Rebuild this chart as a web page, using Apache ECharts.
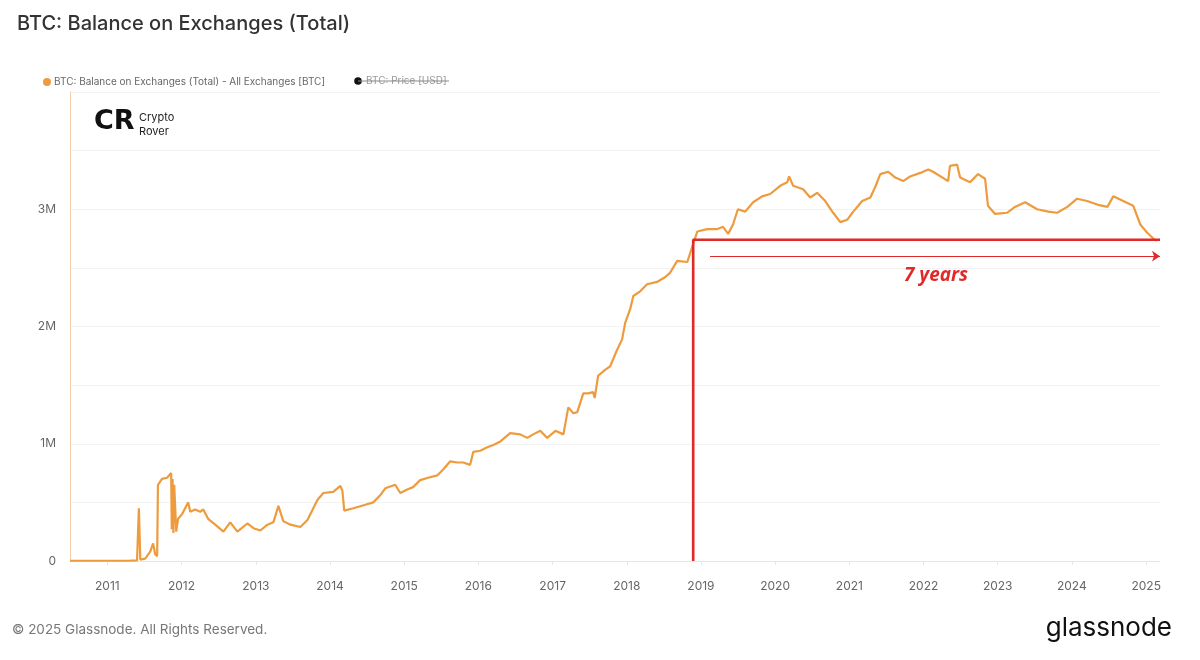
<!DOCTYPE html>
<html>
<head>
<meta charset="utf-8">
<script src="https://cdn.jsdelivr.net/npm/echarts@6/dist/echarts.min.js"></script>
<style>
html,body{margin:0;padding:0;background:#fff;}
#c{width:1200px;height:660px;}
</style>
</head>
<body>
<div id="c"></div>
<script>
// Balance on exchanges, millions of BTC
const dates = [
'2010-07-01','2010-11-25','2011-04-22','2011-05-27','2011-06-05','2011-06-12','2011-07-06','2011-07-31','2011-08-14','2011-08-24',
'2011-09-03','2011-09-07','2011-09-27','2011-10-22','2011-11-11','2011-11-14','2011-11-18','2011-11-22','2011-11-26','2011-12-06',
'2011-12-15','2012-01-04','2012-02-03','2012-02-13','2012-03-08','2012-04-02','2012-04-17','2012-05-11','2012-06-15','2012-07-25',
'2012-08-28','2012-10-02','2012-11-20','2012-12-20','2013-01-23','2013-02-27','2013-03-28','2013-04-22','2013-05-16','2013-06-20',
'2013-08-08','2013-09-12','2013-10-31','2013-11-29','2014-01-17','2014-02-21','2014-03-03','2014-03-12','2014-04-26','2014-06-24',
'2014-08-02','2014-09-05','2014-09-30','2014-11-18','2014-12-13','2015-01-16','2015-02-14','2015-03-21','2015-04-29','2015-06-13',
'2015-07-12','2015-08-16','2015-09-19','2015-10-19','2015-11-22','2015-12-07','2016-01-11','2016-02-14','2016-03-15','2016-04-19',
'2016-06-06','2016-07-25','2016-08-29','2016-09-27','2016-11-01','2016-12-05','2017-01-15','2017-02-23','2017-03-19','2017-04-13',
'2017-05-02','2017-06-01','2017-06-25','2017-07-19','2017-07-27','2017-08-13','2017-09-16','2017-10-11','2017-11-14','2017-12-09',
'2017-12-24','2018-01-18','2018-02-02','2018-03-08','2018-04-11','2018-05-30','2018-07-08','2018-08-03','2018-09-06','2018-10-26',
'2018-11-19','2018-12-14','2019-02-01','2019-03-21','2019-04-20','2019-05-15','2019-06-08','2019-07-02','2019-08-07','2019-09-15',
'2019-10-29','2019-12-08','2020-01-26','2020-03-01','2020-03-10','2020-03-30','2020-05-18','2020-06-22','2020-07-26','2020-09-04',
'2020-10-13','2020-11-17','2020-12-21','2021-01-20','2021-03-05','2021-04-14','2021-05-08','2021-06-02','2021-07-11','2021-08-15',
'2021-09-23','2021-10-27','2021-12-16','2022-01-24','2022-02-17','2022-05-02','2022-05-11','2022-06-15','2022-06-30','2022-08-18',
'2022-09-26','2022-10-31','2022-11-14','2022-12-19','2023-02-16','2023-03-27','2023-05-16','2023-07-14','2023-09-07','2023-10-21',
'2023-12-10','2024-01-27','2024-03-16','2024-05-05','2024-06-24','2024-07-23','2024-09-10','2024-10-29','2024-12-03','2025-01-06',
'2025-02-05','2025-02-20'
];
const balance = [
0.002,0.002,0.003,0.005,0.45,0.012,0.02,0.08,0.15,0.06,
0.04,0.65,0.70,0.71,0.75,0.27,0.70,0.24,0.65,0.25,
0.36,0.40,0.50,0.42,0.44,0.42,0.44,0.36,0.31,0.25,
0.33,0.25,0.32,0.28,0.26,0.31,0.33,0.47,0.34,0.31,
0.29,0.35,0.52,0.58,0.59,0.64,0.60,0.43,0.45,0.48,
0.50,0.56,0.62,0.65,0.58,0.61,0.63,0.69,0.71,0.73,
0.78,0.85,0.84,0.84,0.82,0.93,0.94,0.97,0.99,1.02,
1.09,1.08,1.05,1.08,1.11,1.05,1.11,1.08,1.31,1.26,
1.27,1.43,1.43,1.44,1.39,1.58,1.63,1.66,1.80,1.89,
2.03,2.15,2.26,2.30,2.36,2.38,2.42,2.46,2.56,2.55,
2.68,2.81,2.83,2.83,2.85,2.79,2.87,3.00,2.98,3.06,
3.11,3.13,3.20,3.23,3.28,3.20,3.17,3.10,3.14,3.07,
2.97,2.89,2.91,2.98,3.07,3.10,3.19,3.30,3.32,3.27,
3.24,3.28,3.31,3.34,3.32,3.24,3.37,3.38,3.27,3.23,
3.30,3.26,3.03,2.96,2.97,3.02,3.06,3.00,2.98,2.97,
3.02,3.09,3.07,3.04,3.02,3.11,3.07,3.03,2.87,2.80,
2.75,2.73
];
const yTicks = [0, 1, 2, 3];
const axisMin = '2010-07-01';
const axisMax = '2025-03-10';
// annotation values
const markDate = '2018-11-24';
const markLevel = 2.74;
const arrowStart = '2019-02-15';
const arrowLevel = 2.60;
const labelDate = '2022-03-03';
const labelLevel = 2.43;
const labelText = '7 years';

const chart = echarts.init(document.getElementById('c'), null, {renderer: 'canvas'});
const FONT = 'Inter, "Noto Sans", sans-serif';
chart.setOption({
  backgroundColor: '#fff',
  animation: false,
  textStyle: {fontFamily: FONT},
  title: {
    text: 'BTC: Balance on Exchanges (Total)',
    left: 12, top: 9,
    textStyle: {fontSize: 20, fontWeight: 500, color: '#333', fontFamily: FONT}
  },
  legend: {
    data: ['BTC: Balance on Exchanges (Total) - All Exchanges [BTC]'],
    left: 38, top: 72,
    icon: 'circle', itemWidth: 8, itemHeight: 8, itemGap: 4,
    textStyle: {fontSize: 10, color: '#666', fontFamily: FONT, padding: [0,0,0,-2]}
  },
  grid: {left: 70, right: 40, top: 92, bottom: 99},
  xAxis: {
    type: 'time', min: axisMin, max: axisMax, splitNumber: 16,
    axisLine: {lineStyle: {color: '#e6e6e6'}},
    axisTick: {show: true, lineStyle: {color: '#e6e6e6'}, length: 4},
    splitLine: {show: false},
    axisLabel: {formatter: '{yyyy}', color: '#666', fontSize: 12, margin: 19, fontFamily: FONT}
  },
  yAxis: {
    type: 'value', min: 0, max: 4, interval: 0.5,
    axisLine: {show: true, lineStyle: {color: '#f2cfa6'}},
    axisTick: {show: false},
    splitLine: {lineStyle: {color: '#f3f3f3'}},
    axisLabel: {
      color: '#666', fontSize: 12, margin: 14, fontFamily: FONT,
      formatter: v => yTicks.includes(v) ? (v === 0 ? '0' : v + 'M') : ''
    }
  },
  series: [
    {
      name: 'BTC: Balance on Exchanges (Total) - All Exchanges [BTC]',
      type: 'line', showSymbol: false, symbol: 'none',
      color: '#EE9B3E',
      lineStyle: {width: 2.2, color: '#EE9B3E'},
      data: dates.map((d, i) => [d, balance[i]]),
      z: 3
    },
    {
      name: 'marker', type: 'line', symbol: 'none', silent: true,
      lineStyle: {width: 2.6, color: '#E02A2A'},
      data: [[markDate, 0], [markDate, markLevel], [axisMax, markLevel]],
      clip: false, z: 4,
      markLine: {
        silent: true, symbol: ['none', 'arrow'], symbolSize: 8,
        lineStyle: {type: 'solid', width: 1.2, color: '#E02A2A'},
        label: {show: false},
        data: [[{coord: [arrowStart, arrowLevel]}, {coord: [axisMax, arrowLevel]}]]
      },
      markPoint: {
        silent: true, symbol: 'circle', symbolSize: 0,
        label: {show: true, formatter: labelText, color: '#E02A2A', fontSize: 19,
                fontWeight: 'bold', fontStyle: 'italic', fontFamily: '"Open Sans", sans-serif'},
        data: [{coord: [labelDate, labelLevel]}]
      }
    }
  ],
  graphic: [
    // second legend item (hidden series, struck through)
    {type: 'circle', shape: {cx: 358, cy: 81, r: 3.8}, style: {fill: '#111'}},
    {type: 'text', left: 366, top: 76, style: {text: 'BTC: Price [USD]', fill: '#999', fontSize: 10, fontFamily: FONT}},
    {type: 'line', shape: {x1: 358, y1: 81, x2: 449, y2: 81}, style: {stroke: '#888', lineWidth: 1}},
    // Crypto Rover logo
    {type: 'text', left: 94, top: 108, style: {text: 'CR', fill: '#111', fontSize: 27, fontWeight: 900, fontFamily: '"DejaVu Sans", sans-serif'}},
    {type: 'text', left: 139, top: 111, style: {text: 'Crypto\nRover', fill: '#222', fontSize: 11, lineHeight: 14, fontFamily: FONT}},
    // footer
    {type: 'text', left: 12, top: 623, style: {text: '© 2025 Glassnode. All Rights Reserved.', fill: '#777', fontSize: 13.5, fontFamily: FONT}},
    {type: 'text', right: 28, top: 615, style: {text: 'glassnode', fill: '#111', fontSize: 26, fontWeight: 400, fontFamily: FONT}}
  ]
});
</script>
</body>
</html>
